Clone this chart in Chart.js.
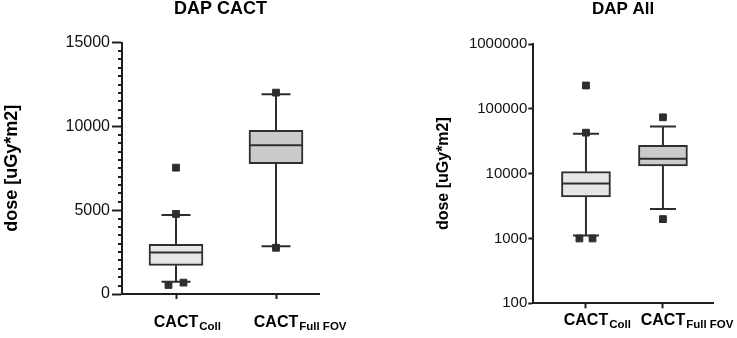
<!DOCTYPE html>
<html>
<head>
<meta charset="utf-8">
<script src="https://cdn.jsdelivr.net/npm/chart.js@4"></script>
<style>
  html, body { margin: 0; padding: 0; background: #fff; }
  .wrap { position: absolute; top: 0; height: 338px; }
  #w1 { left: 0; width: 368px; }
  #w2 { left: 368px; width: 369px; }
</style>
</head>
<body>
<div class="wrap" id="w1"><canvas id="c1"></canvas></div>
<div class="wrap" id="w2"><canvas id="c2"></canvas></div>
<script>
// Dados -----------------------------------------------------------------------
const categories   = ["CACT", "CACT"];
const categorySubs = ["Coll", "Full FOV"];

// DAP CACT (linear)
const cactQ1      = [1710, 7780];
const cactMedian  = [2470, 8880];
const cactQ3      = [2970, 9770];
const cactLow     = [735, 2850];
const cactHigh    = [4720, 11920];
const cactOutColl = [7540, 4780, 540, 680];
const cactOutFull = [12020, 2760];
const cactTicks   = [0, 5000, 10000, 15000];

// DAP All (log)
const allQ1      = [4370, 13150];
const allMedian  = [7050, 17000];
const allQ3      = [10730, 27400];
const allLow     = [1110, 2860];
const allHigh    = [41400, 53200];
const allOutColl = [229000, 42900, 1000, 1000];
const allOutFull = [74000, 1990];
const allTicks   = [100, 1000, 10000, 100000, 1000000];

// Estilo ----------------------------------------------------------------------
const LINE = "#2e2e2e";
const AXIS = "#1e1e1e";
const FILLS = ["#e6e6e6", "#cbcbcb"];
const FONT = "'Liberation Sans', Arial, Helvetica, sans-serif";
Chart.defaults.font.family = FONT;

// outliers que caem no mesmo lugar ficam lado a lado
function outlierPoints(groups, near, dodge) {
  const pts = [];
  groups.forEach((vals, i) => {
    const s = vals.slice().sort((a, b) => a - b);
    s.forEach((v, k) => {
      const prevNear = k > 0 && near(s[k - 1], v);
      const nextNear = k < s.length - 1 && near(v, s[k + 1]);
      let dx = 0;
      if (prevNear) dx = dodge;
      else if (nextNear) dx = -dodge;
      pts.push({ x: i + 1 + dx, y: v });
    });
  });
  return pts;
}

function boxChart(canvasId, cfg) {
  const n = cfg.q1.length;

  const boxPlugin = {
    id: "box_" + canvasId,
    beforeDatasetsDraw(chart) {
      const { ctx, scales: { x, y } } = chart;
      ctx.save();
      ctx.strokeStyle = LINE;
      ctx.lineWidth = 2;
      const hw = cfg.capWidth / 2;
      for (let i = 0; i < n; i++) {
        const px = x.getPixelForValue(i + 1);
        const yLo = y.getPixelForValue(cfg.low[i]);
        const yHi = y.getPixelForValue(cfg.high[i]);
        const yQ1 = y.getPixelForValue(cfg.q1[i]);
        const yQ3 = y.getPixelForValue(cfg.q3[i]);
        ctx.beginPath();
        ctx.moveTo(px, yQ1); ctx.lineTo(px, yLo);
        ctx.moveTo(px, yQ3); ctx.lineTo(px, yHi);
        ctx.moveTo(px - hw, yLo); ctx.lineTo(px + hw, yLo);
        ctx.moveTo(px - hw, yHi); ctx.lineTo(px + hw, yHi);
        ctx.stroke();
      }
      ctx.restore();
    },
    afterDatasetsDraw(chart) {
      const { ctx, scales: { y } } = chart;
      const bars = chart.getDatasetMeta(0).data;
      ctx.save();
      ctx.strokeStyle = LINE;
      ctx.lineWidth = 2;
      bars.forEach((b, i) => {
        const ym = y.getPixelForValue(cfg.median[i]);
        ctx.beginPath();
        ctx.moveTo(b.x - b.width / 2 + 1, ym);
        ctx.lineTo(b.x + b.width / 2 - 1, ym);
        ctx.stroke();
      });
      ctx.restore();
    },
    afterDraw(chart) {
      const { ctx, chartArea, scales: { x, y } } = chart;
      ctx.save();
      // ticks menores do eixo y
      if (cfg.minorStep) {
        ctx.strokeStyle = AXIS;
        ctx.lineWidth = 2;
        ctx.beginPath();
        for (let v = y.min; v <= y.max; v += cfg.minorStep) {
          if (cfg.ticks.includes(v)) continue;
          const py = Math.round(y.getPixelForValue(v));
          ctx.moveTo(chartArea.left - cfg.minorLen, py);
          ctx.lineTo(chartArea.left, py);
        }
        ctx.stroke();
      }
      // rótulos do eixo x com subscrito
      ctx.fillStyle = "#000";
      ctx.textBaseline = "alphabetic";
      const base = chartArea.bottom + cfg.labelDrop;
      categories.forEach((c, i) => {
        const px = x.getPixelForValue(i + 1);
        ctx.font = "bold 16px " + FONT;
        const w = ctx.measureText(c).width;
        ctx.textAlign = "center";
        ctx.fillText(c, px, base);
        ctx.font = "bold 11.5px " + FONT;
        ctx.textAlign = "left";
        ctx.fillText(categorySubs[i], px + w / 2 + 1, base + 3);
      });
      ctx.restore();
    }
  };

  return new Chart(document.getElementById(canvasId), {
    type: "bar",
    data: {
      datasets: [
        {
          type: "bar",
          data: cfg.q1.map((v, i) => ({ x: i + 1, y: [v, cfg.q3[i]] })),
          backgroundColor: FILLS,
          borderColor: LINE,
          borderWidth: 2,
          borderSkipped: false,
          barThickness: cfg.boxWidth,
          order: 2
        },
        {
          type: "scatter",
          data: cfg.outliers,
          pointStyle: "rect",
          pointRadius: 4.8,
          backgroundColor: LINE,
          borderColor: LINE,
          borderWidth: 1,
          order: 1
        }
      ]
    },
    options: {
      responsive: true,
      maintainAspectRatio: false,
      animation: false,
      events: [],
      layout: { padding: { left: 0, right: cfg.padRight, top: 0, bottom: 0 } },
      plugins: {
        legend: { display: false },
        tooltip: { enabled: false },
        title: {
          display: true,
          text: cfg.title,
          fullSize: false,
          color: "#000",
          font: { size: cfg.titleSize, weight: "bold", lineHeight: 1 },
          padding: { top: cfg.titleTop, bottom: cfg.titleBottom }
        }
      },
      scales: {
        x: {
          type: "linear",
          min: cfg.xMin,
          max: cfg.xMax,
          offset: false,
          afterBuildTicks: s => { s.ticks = categories.map((c, i) => ({ value: i + 1 })); },
          afterFit: s => { s.height = cfg.xAxisHeight; },
          ticks: { display: false },
          grid: { drawOnChartArea: false, offset: false, drawTicks: true, tickLength: 5, tickWidth: 2, tickColor: AXIS },
          border: { color: AXIS, width: 2 }
        },
        y: {
          type: cfg.yType,
          min: cfg.ticks[0],
          max: cfg.ticks[cfg.ticks.length - 1],
          afterBuildTicks: s => { s.ticks = cfg.ticks.map(v => ({ value: v })); },
          afterFit: s => { s.width = cfg.yAxisWidth; },
          ticks: { callback: v => String(v), color: "#111", font: { size: cfg.tickSize }, padding: cfg.tickPad, autoSkip: false },
          grid: { drawOnChartArea: false, tickLength: cfg.tickLen, tickWidth: 2, tickColor: AXIS },
          border: { color: AXIS, width: 2 },
          title: {
            display: true,
            text: "dose [uGy*m2]",
            color: "#000",
            font: { size: cfg.yTitleSize, weight: "bold", lineHeight: 1 },
            padding: { top: cfg.yTitlePad, bottom: 0 }
          }
        }
      }
    },
    plugins: [boxPlugin]
  });
}

// DAP CACT ---------------------------------------------------------------------
boxChart("c1", {
  title: "DAP CACT", titleSize: 18, titleTop: 0, titleBottom: 24.7,
  q1: cactQ1, median: cactMedian, q3: cactQ3, low: cactLow, high: cactHigh,
  outliers: outlierPoints([cactOutColl, cactOutFull], (a, b) => Math.abs(a - b) < 300, 0.075),
  ticks: cactTicks, yType: "linear", minorStep: 500, minorLen: 4,
  boxWidth: 54, capWidth: 29,
  xMin: 0.46, xMax: 2.43,
  padRight: 49, xAxisHeight: 44, yAxisWidth: 122,
  tickSize: 16, tickLen: 10, tickPad: 2,
  yTitleSize: 18, yTitlePad: 2.7, labelDrop: 32.7
});

// DAP All ----------------------------------------------------------------------
boxChart("c2", {
  title: "DAP All", titleSize: 17, titleTop: 0.7, titleBottom: 26.3,
  q1: allQ1, median: allMedian, q3: allQ3, low: allLow, high: allHigh,
  outliers: outlierPoints([allOutColl, allOutFull], (a, b) => Math.abs(Math.log10(a / b)) < 0.05, 0.085),
  ticks: allTicks, yType: "logarithmic", minorStep: 0,
  boxWidth: 49, capWidth: 26,
  xMin: 0.316, xMax: 2.65,
  padRight: 24, xAxisHeight: 34.7, yAxisWidth: 165.3,
  tickSize: 15, tickLen: 5, tickPad: 1,
  yTitleSize: 16, yTitlePad: 67.6, labelDrop: 21.7
});
</script>
</body>
</html>
